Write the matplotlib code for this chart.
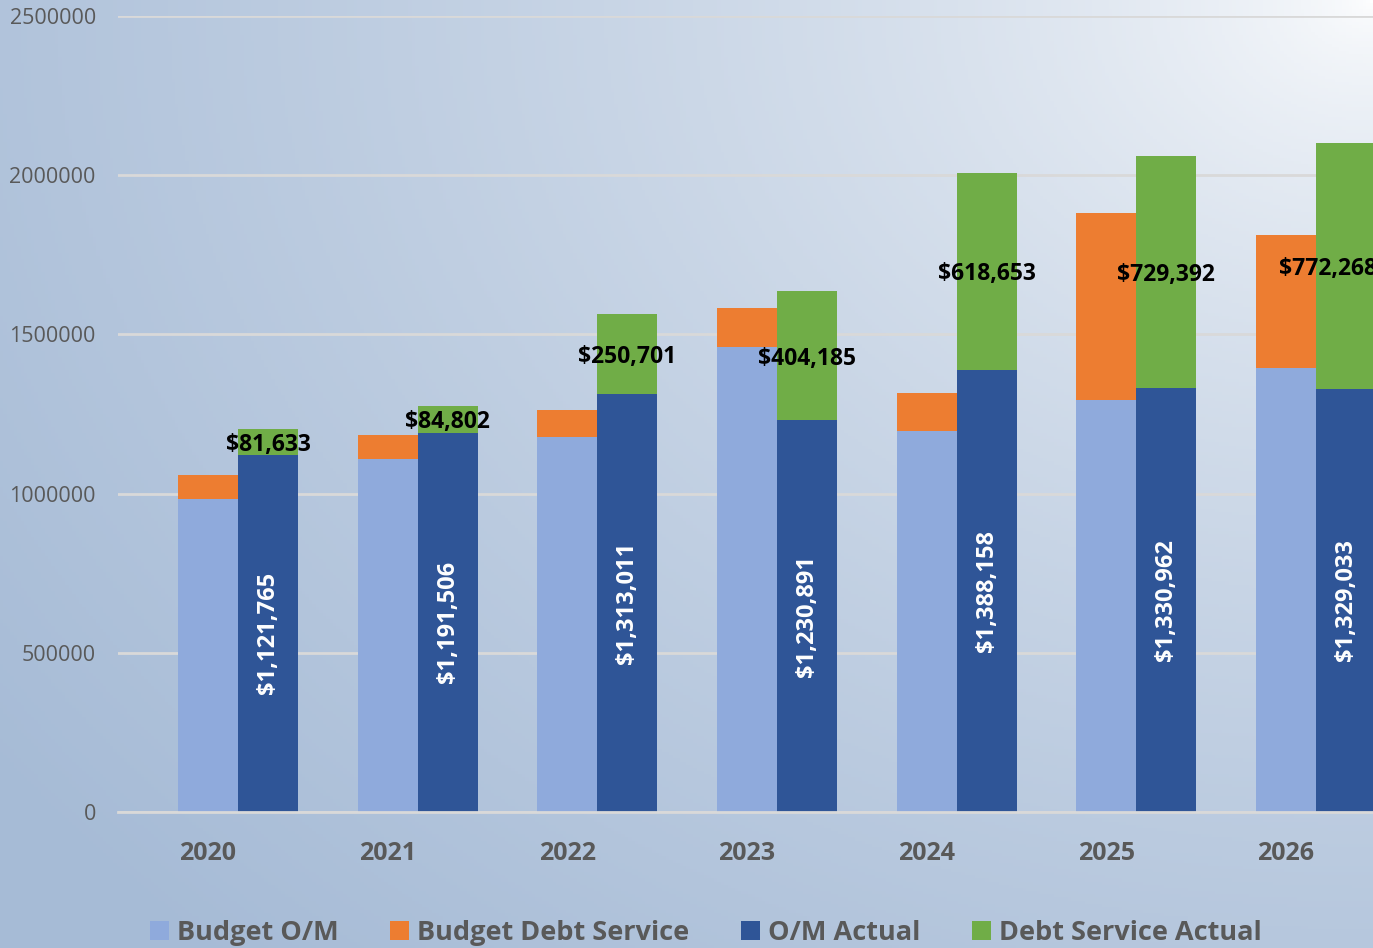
import numpy as np
import matplotlib
matplotlib.use("Agg")
import matplotlib.pyplot as plt
from matplotlib.colors import to_rgb

plt.rcParams['font.family'] = ['Open Sans', 'DejaVu Sans']

years = ['2020', '2021', '2022', '2023', '2024', '2025', '2026']
budget_om = [983000, 1108000, 1178000, 1460000, 1197000, 1294000, 1394000]
budget_debt = [75000, 76000, 84000, 123000, 119000, 587000, 418000]
om_actual = [1121765, 1191506, 1313011, 1230891, 1388158, 1330962, 1329033]
debt_actual = [81633, 84802, 250701, 404185, 618653, 729392, 772268]

c_bom = '#8faadc'
c_bdebt = '#ed7d31'
c_om = '#2f5597'
c_debt = '#70ad47'
grey = '#595959'

fig = plt.figure(figsize=(13.73, 9.48), dpi=100)

# gradient background, white in the top right fading to blue at bottom left
bg = fig.add_axes([0, 0, 1, 1], zorder=-10)
gx, gy = np.meshgrid(np.linspace(0, 1, 400), np.linspace(1, 0, 300))
d = np.sqrt((1 - gx) ** 2 + (1 - gy) ** 2 * 0.8) / 1.25
t = np.clip(d, 0, 1) ** 0.6
lo = np.array(to_rgb('#a6bbd6'))
hi = np.array(to_rgb('#ffffff'))
img = hi[None, None, :] * (1 - t[..., None]) + lo[None, None, :] * t[..., None]
bg.imshow(img, aspect='auto', extent=[0, 1, 0, 1])
bg.set_axis_off()

ax = fig.add_axes([118 / 1373, 1 - 812 / 948, 1 - 118 / 1373, (812 - 16) / 948])
ax.patch.set_alpha(0)

x = np.arange(len(years))
w = 0.334
xb = x - w / 2
xa = x + w / 2

ax.bar(xb, budget_om, w, color=c_bom, label='Budget O/M', zorder=3)
ax.bar(xb, budget_debt, w, bottom=budget_om, color=c_bdebt, label='Budget Debt Service', zorder=3)
ax.bar(xa, om_actual, w, color=c_om, label='O/M Actual', zorder=3)
ax.bar(xa, debt_actual, w, bottom=om_actual, color=c_debt, label='Debt Service Actual', zorder=3)

for i, (xi, om, dbt) in enumerate(zip(xa, om_actual, debt_actual)):
    ax.text(xi, om / 2, f'${om:,}', rotation=90, ha='center', va='center',
            color='white', fontsize=17, fontweight='bold', zorder=5)
    # last label gets nudged left, like the spreadsheet does near the edge
    dx = -13 if i == len(years) - 1 else 0
    ax.annotate(f'${dbt:,}', (xi, om + dbt / 2), xytext=(dx, -2), textcoords='offset points',
                ha='center', va='center', color='black', fontsize=16.5,
                fontweight='bold', zorder=5, annotation_clip=False)

ax.set_xlim(-0.668, 6.317)
ax.set_ylim(0, 2500000)
ax.set_yticks([0, 500000, 1000000, 1500000, 2000000, 2500000])
ax.set_yticklabels(['0', '500000', '1000000', '1500000', '2000000', '2500000'])
ax.set_xticks(xb)
ax.set_xticklabels(years, fontweight='bold')
ax.tick_params(axis='y', length=0, pad=16, labelsize=15.5, labelcolor=grey)
ax.tick_params(axis='x', length=0, pad=21, labelsize=18, labelcolor=grey)
ax.grid(axis='y', color='#d9d9d9', linewidth=2, zorder=0)
for s in ['top', 'right', 'left']:
    ax.spines[s].set_visible(False)
ax.spines['bottom'].set_color('#d9d9d9')
ax.spines['bottom'].set_linewidth(2)
ax.spines['bottom'].set_zorder(4)

fig.legend(loc='center left', bbox_to_anchor=(150 / 1373, 1 - 933 / 948), ncol=4,
           frameon=False, handlelength=0.7, handleheight=0.7, handletextpad=0.3,
           columnspacing=1.9, borderaxespad=0, borderpad=0,
           prop={'size': 19.5, 'weight': 'bold'}, labelcolor=grey)

fig.savefig('out.png', dpi=100)
